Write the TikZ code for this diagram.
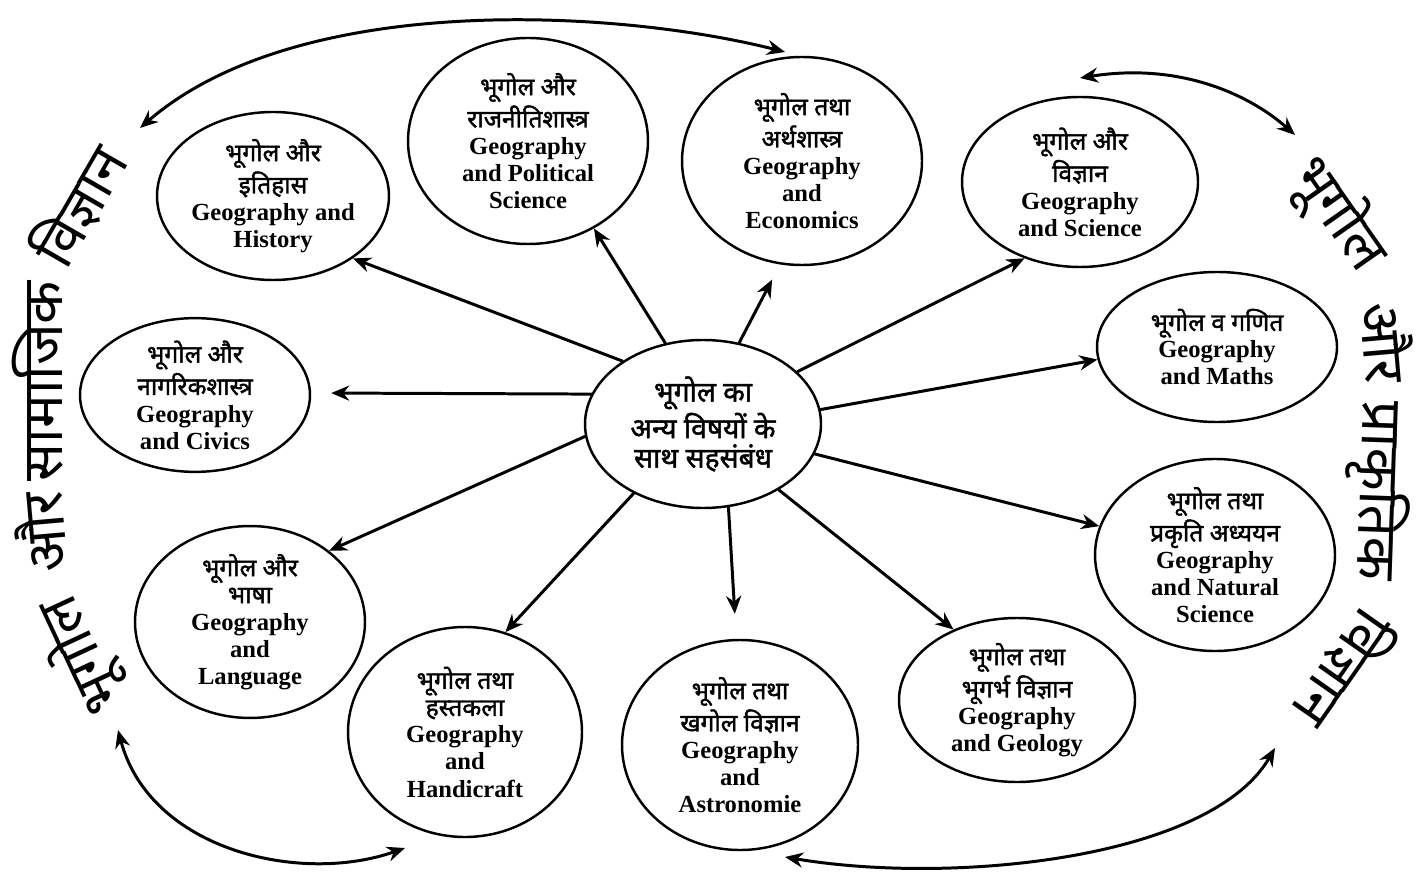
\documentclass[tikz,border=0pt]{standalone}
\usepackage{fontspec}
\setmainfont{Liberation Serif}
\newfontfamily\hin[Script=Devanagari]{Noto Sans}
\newfontfamily\hinb[Script=Devanagari, FakeBold=1.6]{Noto Sans}
\usetikzlibrary{shapes.geometric,arrows.meta}
\newcommand{\hi}[1]{{\hinb #1}}
\begin{document}
\begin{tikzpicture}[x=0.1mm, y=-0.1mm, line join=round, line cap=round, >={Stealth[length=1.8mm,width=1.5mm]},
  subj/.style={ellipse, draw, line width=0.7pt, align=center, inner sep=0pt, font=\bfseries\fontsize{7}{7.7}\selectfont},
  link/.style={->, line width=0.85pt},
  ring/.style={<->, line width=0.85pt},
  sideword/.style={font=\hin\fontsize{16}{16}\selectfont, inner sep=0pt}]
            \useasboundingbox (0,0) rectangle (1428,880);
            % beech ka vritt
            \node[subj, minimum width=23.6mm, minimum height=16.8mm, font=\bfseries\fontsize{8}{8.4}\selectfont] (ctr) at (703,424) {\hi{भूगोल का}\\\hi{अन्य विषयों के}\\\hi{साथ सहसंबंध}};
            % vishay
            \node[subj, minimum width=23.2mm, minimum height=16.8mm] (hist) at (273,196) {\hi{भूगोल और}\\\hi{इतिहास}\\Geography and\\History};
            \node[subj, minimum width=24mm, minimum height=20.6mm] (pol) at (528,141) {\hi{भूगोल और}\\\hi{राजनीतिशास्त्र}\\Geography\\and Political\\Science};
            \node[subj, minimum width=24mm, minimum height=20.8mm] (econ) at (802,161) {\hi{भूगोल तथा}\\\hi{अर्थशास्त्र}\\Geography\\and\\Economics};
            \node[subj, minimum width=23.6mm, minimum height=17mm] (sci) at (1080,182) {\hi{भूगोल और}\\\hi{विज्ञान}\\Geography\\and Science};
            \node[subj, minimum width=24mm, minimum height=15mm] (maths) at (1217,347) {\hi{भूगोल व गणित}\\Geography\\and Maths};
            \node[subj, minimum width=24mm, minimum height=17.6mm] (nat) at (1215,555) {\hi{भूगोल तथा}\\\hi{प्रकृति अध्ययन}\\Geography\\and Natural\\Science};
            \node[subj, minimum width=23.6mm, minimum height=16.4mm] (geo) at (1017,700) {\hi{भूगोल तथा}\\\hi{भूगर्भ विज्ञान}\\Geography\\and Geology};
            \node[subj, minimum width=23.6mm, minimum height=21mm] (astro) at (740,745) {\hi{भूगोल तथा}\\\hi{खगोल विज्ञान}\\Geography\\and\\Astronomie};
            \node[subj, minimum width=23.4mm, minimum height=21mm] (hand) at (465,732) {\hi{भूगोल तथा}\\\hi{हस्तकला}\\Geography\\and\\Handicraft};
            \node[subj, minimum width=23mm, minimum height=18mm] (lang) at (250,622) {\hi{भूगोल और}\\\hi{भाषा}\\Geography\\and\\Language};
            \node[subj, minimum width=23mm, minimum height=15mm] (civ) at (195,395) {\hi{भूगोल और}\\\hi{नागरिकशास्त्र}\\Geography\\and Civics};
            \draw[link] (ctr.142) -- (hist.-38);
            \draw[link] (ctr.115) -- (pol.-53);
            \draw[link, shorten >=1.7mm] (ctr.66) -- (econ.-102);
            \draw[link] (ctr.29) -- (sci.-126);
            \draw[link] (ctr.7) -- (maths.186);
            \draw[link] (ctr.-15) -- (nat.166);
            \draw[link] (ctr.-41) -- (geo.132);
            \draw[link, shorten >=2.5mm] (ctr.-73) -- (astro.92);
            \draw[link] (ctr.-135) -- (hand.68);
            \draw[link] (ctr.186) -- (lang.42);
            \draw[link, shorten >=2mm] (ctr.165) -- (civ.1);
            % bahari shabd
            \node[sideword, rotate=115] (sl1) at (82,655) {भूगोल};
            \node[sideword, rotate=95] (sl2) at (40,533) {और};
            \node[sideword, rotate=90] (sl3) at (38,381) {सामाजिक};
            \node[sideword, rotate=60] (sl4) at (78,205) {विज्ञान};
            \node[sideword, rotate=-55] (sr1) at (1338,214) {भूगोल};
            \node[sideword, rotate=-85] (sr2) at (1388,342) {और};
            \node[sideword, rotate=-92] (sr3) at (1378,491) {प्राकृतिक};
            \node[sideword, rotate=-125] (sr4) at (1345,670) {विज्ञान};
            % bahari teer
            \coordinate (tl1) at (140,128); \coordinate (tl2) at (785,52);
            \coordinate (tr1) at (1080,78); \coordinate (tr2) at (1295,135);
            \coordinate (bl1) at (118,730); \coordinate (bl2) at (405,848);
            \coordinate (br1) at (785,857); \coordinate (br2) at (1275,748);
            \draw[ring] (tl1) .. controls (300,-10) and (620,10) .. (tl2);
            \draw[ring] (tr1) .. controls (1180,62) and (1250,95) .. (tr2);
            \draw[ring] (bl1) .. controls (150,850) and (300,885) .. (bl2);
            \draw[ring] (br1) .. controls (950,885) and (1210,860) .. (br2);
        \end{tikzpicture}
\end{document}
